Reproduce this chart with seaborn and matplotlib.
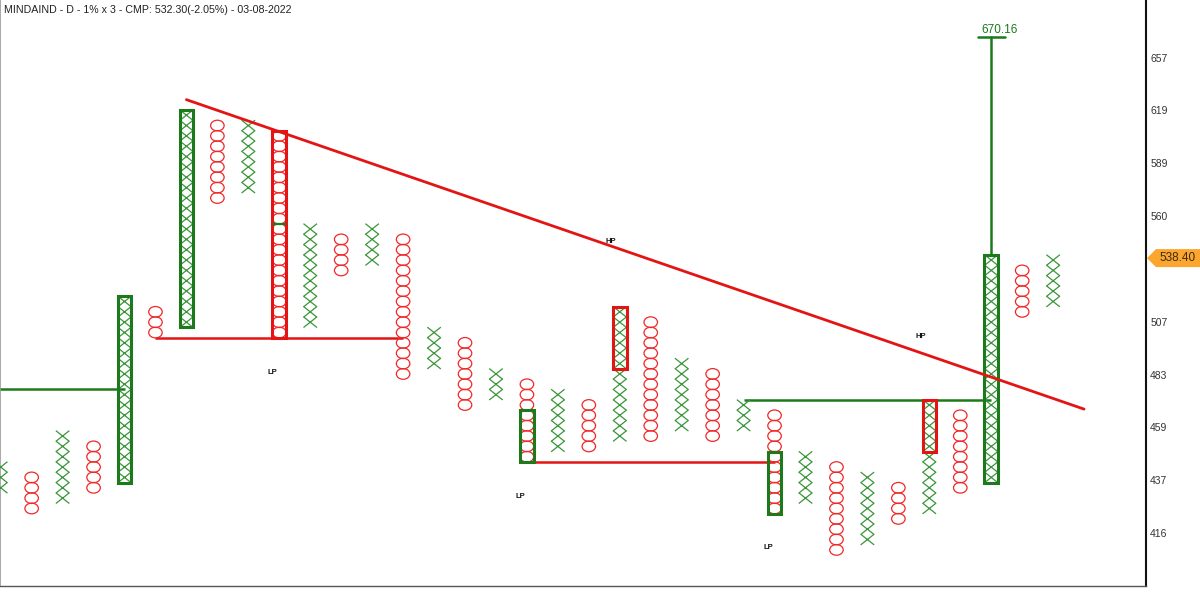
import numpy as np
import pandas as pd
import matplotlib
matplotlib.use("Agg")
import matplotlib.pyplot as plt
from matplotlib.path import Path
from matplotlib.patches import Rectangle, Polygon
from matplotlib.transforms import IdentityTransform
import seaborn as sns

# ---------------- data ----------------
title = "MINDAIND - D - 1% x 3 - CMP: 532.30(-2.05%) - 03-08-2022"

# one entry per P&F column, box indices (1% boxes)
col_type = ["X", "O", "X", "O", "X", "O", "X", "O", "X", "O",
            "X", "O", "X", "O", "X", "O", "X", "O", "X", "O",
            "X", "O", "X", "O", "X", "O", "X", "O", "X", "O",
            "X", "O", "X", "O", "X"]
col_low = [3, 1, 2, 3, 4, 18, 19, 31, 32, 18,
           19, 24, 25, 14, 15, 11, 12, 6, 7, 7,
           8, 8, 9, 8, 9, 1, 2, -3, -2, 0,
           1, 3, 4, 20, 21]
col_high = [5, 4, 8, 7, 21, 20, 39, 38, 38, 37,
            28, 27, 28, 27, 18, 17, 14, 13, 12, 11,
            20, 19, 15, 14, 11, 10, 6, 5, 4, 3,
            11, 10, 25, 24, 25]

# highlighted (boxed) sections
hl_col = [4, 6, 9, 17, 20, 25, 30, 32]
hl_low = [4, 19, 18, 6, 15, 1, 7, 4]
hl_high = [21, 39, 37, 10, 20, 6, 11, 25]
hl_kind = ["g", "g", "r", "g", "r", "g", "r", "g"]

# horizontal support / resistance lines (box-edge level, from col, to col)
h_level = [12.5, 17.5, 5.5, 11.5]
h_from = [-1, 5, 17, 24]
h_to = [4, 13, 25, 32]
h_kind = ["g", "r", "r", "g"]

# 45 degree trend line
trend_col = [6.0, 35.0]
trend_box = [40.5, 10.6]

# price target
target_col = 32
target_box = 46.6
target_text = "670.16"

# LP / HP markers
note_text = ["LP", "LP", "LP", "HP", "HP"]
note_col = [8.77, 16.78, 24.79, 19.72, 29.73]
note_box = [14.1, 2.2, -2.8, 26.75, 17.66]

# right axis price labels
price_labels = ["416", "437", "459", "483", "507", "533", "560", "589", "619", "657"]
hidden_labels = ["533"]
cmp_tag = 538.40

# ---------------- styling ----------------
GREEN = "#3a963a"
GREEN_D = "#1c7a1c"
RED = "#f02828"
RED_D = "#e41414"
colors = {"g": GREEN_D, "r": RED_D}

sns.set_style("white")
plt.rcParams["font.family"] = ["Liberation Sans", "DejaVu Sans"]

W, H = 1200, 604
fig = plt.figure(figsize=(W / 100, H / 100), dpi=100, facecolor="white")
ax = fig.add_axes([0, 18 / H, 1146 / W, 586 / H])
ax.set_facecolor("white")

rows = []
for i, (t, lo, hi) in enumerate(zip(col_type, col_low, col_high)):
    for b in range(lo, hi + 1):
        rows.append((i, b, t))
df = pd.DataFrame(rows, columns=["col", "box", "kind"])

x_path = Path([(-0.5, -0.398), (0.5, 0.398), (-0.5, 0.398), (0.5, -0.398)],
              [Path.MOVETO, Path.LINETO, Path.MOVETO, Path.LINETO])
circ = Path.unit_circle()
o_path = Path(circ.vertices * np.array([0.5, 0.395]), circ.codes)

S = (13.5 * 0.72) ** 2

sns.scatterplot(data=df[df.kind == "X"], x="col", y="box", marker=x_path, s=S,
                color=GREEN, edgecolor=GREEN, facecolor="none", linewidth=0.9,
                legend=False, ax=ax, zorder=3)
c = ax.collections[-1]
c.set_facecolor("none"); c.set_edgecolor(GREEN); c.set_linewidth(0.9)

sns.scatterplot(data=df[df.kind == "O"], x="col", y="box", marker=o_path, s=S,
                color=RED, edgecolor=RED, facecolor="none", linewidth=0.9,
                legend=False, ax=ax, zorder=3)
c = ax.collections[-1]
c.set_facecolor("none"); c.set_edgecolor(RED); c.set_linewidth(0.9)

# highlight boxes
for cc, lo, hi, k in zip(hl_col, hl_low, hl_high, hl_kind):
    ax.add_patch(Rectangle((cc - 0.22, lo - 0.5), 0.44, hi - lo + 1, fill=False,
                           ec=colors[k], lw=2.2, zorder=4))

# horizontal lines
for lvl, x0, x1, k in zip(h_level, h_from, h_to, h_kind):
    ax.plot([x0, x1], [lvl, lvl], color=colors[k], lw=1.8, zorder=2,
            solid_capstyle="butt")

# small marker inside column 9
ax.plot([9 - 0.2, 9 + 0.2], [28.5, 28.5], color=GREEN_D, lw=1.6, zorder=5)

# trend line
ax.plot(trend_col, trend_box, color=RED_D, lw=2.0, zorder=5)

# target line
top_box = col_high[target_col] + 0.5
ax.plot([target_col, target_col], [top_box, target_box], color=GREEN_D, lw=1.8, zorder=4)
ax.plot([target_col - 0.44, target_col + 0.44], [target_box, target_box],
        color=GREEN_D, lw=1.8, zorder=4)
ax.annotate(target_text, (target_col + 0.27, target_box), xytext=(0, 0.5),
            textcoords="offset points", ha="center", va="bottom",
            fontsize=8.5, color=GREEN_D)

for t, x, y in zip(note_text, note_col, note_box):
    ax.text(x, y, t, fontsize=5.5, fontweight="bold", ha="center", va="center",
            color="#111111")

# axes limits
ax.set_xlim(-0.0226, 37.0)
ax.set_ylim(-6.49, 50.13)

# price labels on the right
label_step = 5.104
label_pos = [-1.37 + label_step * i for i in range(len(price_labels))]
ax.yaxis.tick_right()
ax.set_yticks(label_pos)
ax.set_yticklabels(["" if p in hidden_labels else p for p in price_labels])
ax.tick_params(axis="y", length=0, pad=3, labelsize=7.5, labelcolor="#333333")
ax.set_xticks([])
ax.set_xlabel("")
ax.set_ylabel("")

ax.spines["top"].set_visible(False)
ax.spines["left"].set_color("#9a9a9a")
ax.spines["left"].set_linewidth(1.2)
ax.spines["right"].set_color("#111111")
ax.spines["right"].set_linewidth(1.5)
ax.spines["bottom"].set_color("#555555")
ax.spines["bottom"].set_linewidth(1.0)

# CMP tag
lp = np.log([float(p) for p in price_labels])
tag_box = float(np.interp(np.log(cmp_tag), lp, label_pos))
y_pix = ax.transData.transform((0, tag_box))[1]
x_tip = 1147
poly = Polygon([(x_tip, y_pix), (x_tip + 9, y_pix + 9), (W, y_pix + 9),
                (W, y_pix - 9), (x_tip + 9, y_pix - 9)], closed=True,
               fc="#fca630", ec="none", transform=IdentityTransform(), zorder=10)
fig.add_artist(poly)
fig.text(1159 / W, y_pix / H, f"{cmp_tag:.2f}", fontsize=8.5, color="#3b2a10",
         va="center", ha="left", zorder=11)

# title
fig.text(4 / W, 1 - 10 / H, title, fontsize=7.7, va="center", ha="left", color="#222222")

fig.savefig("out.png", dpi=100, facecolor="white")
